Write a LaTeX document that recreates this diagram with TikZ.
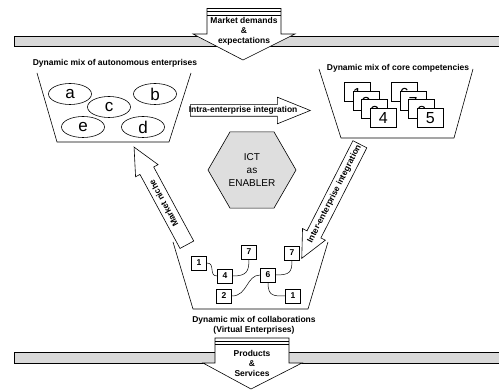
\documentclass[tikz,border=0pt]{standalone}
\usepackage{fontspec}
\setmainfont{Liberation Sans}
\usetikzlibrary{shapes.geometric,shapes.arrows}
\definecolor{band}{HTML}{D9D9D9}
\definecolor{hexfill}{HTML}{DEDEDE}

\begin{document}
\begin{tikzpicture}[
  x=1pt, y=-1pt, line width=0.6pt,
  lbl/.style ={font=\bfseries\fontsize{8.5}{10}\selectfont, align=center, inner sep=0pt},
  ent/.style ={ellipse, draw, fill=white, minimum width=43pt, minimum height=21pt,
               inner sep=0pt, font=\fontsize{17}{17}\selectfont},
  card/.style={draw, fill=white, minimum width=26pt, minimum height=19pt, inner sep=0pt,
               anchor=north west, font=\fontsize{16}{16}\selectfont},
  backcard/.style={card, text height=16pt, text depth=0pt},
  num/.style ={draw, fill=white, minimum width=15pt, minimum height=14pt, inner sep=0pt,
               font=\bfseries\fontsize{8.5}{9}\selectfont},
  blk/.style ={single arrow, draw, fill=white, anchor=tail, text height=6.2pt, text depth=1.8pt,
               font=\bfseries\fontsize{8.5}{10}\selectfont},
  lnk/.style ={line width=0.5pt}
]
\useasboundingbox (0,0) rectangle (499,390);

% =============== bands with in/out arrows ===============
\draw[fill=band, line width=0.8pt] (14,36) rectangle (510,46);
\draw[fill=band, line width=0.8pt] (14,352) rectangle (510,363);

\draw[fill=white] (207,8.5) -- (207,34) -- (193,34) -- (243,60) -- (295,34) -- (281,34) -- (281,8.5) -- cycle;
\draw (207,11.8) -- (281,11.8) (207,15) -- (281,15);
\node[lbl] (mkt) at (244,31) {Market demands\\\&\\expectations};

\draw[fill=white] (215,338) -- (215,363) -- (203,363) -- (251,389) -- (302,363) -- (289,363) -- (289,338) -- cycle;
\draw (215,341) -- (289,341) (215,344) -- (289,344);
\node[lbl] (prod) at (252,363.5) {Products\\\&\\Services};

% =============== autonomous enterprises ===============
\draw (37,73) -- (57,142) -- (169,142) -- (191,73);
\node[lbl] (tauto) at (115,63) {Dynamic mix of autonomous enterprises};
\node[ent] (ea) at (70,94)  {a};
\node[ent] (eb) at (155,94) {b};
\node[ent] (ec) at (109,107) {c};
\node[ent] (ee) at (83,127) {e};
\node[ent] (ed) at (143,127) {d};

% =============== core competencies ===============
\draw (319,69) -- (341,138) -- (454,138) -- (473,69);
\node[lbl] (tcore) at (398,68) {Dynamic mix of core competencies};
% stacked cards, only the top of each hidden digit shows
\foreach \d [count=\i from 0] in {1,2,3}
  \node[backcard] (cl\d) at (344+8.7*\i, 82+8.7*\i) {\d};
\node[card] (cl4) at (370.1,108.1) {4};
\foreach \d [count=\i from 0] in {6,7,8}
  \node[backcard] (cr\d) at (391+8.7*\i, 82+8.7*\i) {\d};
\node[card] (cr5) at (417.1,108.1) {5};

% =============== enabler ===============
\node[regular polygon, regular polygon sides=6, draw, fill=hexfill, minimum size=88pt,
      inner sep=0pt, align=center, font=\fontsize{10}{13}\selectfont] (ict) at (252,170)
  {ICT\\as\\ENABLER};

% =============== block arrows ===============
\node[blk, inner xsep=-1.8pt, inner ysep=1.5pt, single arrow head extend=7.5pt,
      single arrow tip angle=44] (intra) at (190,110.5) {Intra-enterprise integration};
\node[blk, rotate=118.4, minimum height=111pt, inner ysep=3.5pt, single arrow head extend=5pt,
      single arrow tip angle=51] (niche) at (187,245) {Market niche};
\node[blk, rotate=63, shape border rotate=180, minimum height=128pt, inner xsep=-3.3pt,
      inner ysep=3.5pt, single arrow head extend=5pt, single arrow tip angle=51] (inter)
  at (360,144) {Inter-enterprise integration};

% =============== collaborations ===============
\draw (173,242) -- (193,309) -- (308,309) -- (328,242);
\node[lbl] (tcoll) at (254,325.5) {Dynamic mix of collaborations\\(Virtual Enterprises)};
\node[num] (n1)  at (199,263) {1};
\node[num] (n7a) at (249,252) {7};
\node[num] (n7b) at (292,253) {7};
\node[num] (n4)  at (225,276) {4};
\node[num] (n6)  at (268,275) {6};
\node[num] (n2)  at (224,296) {2};
\node[num] (n1b) at (293,296) {1};

\draw[lnk] (n1.east) .. controls +(9,0) and +(-9,0) .. (n4.west);
\draw[lnk] (n4.east) .. controls +(14,0) and +(0,12) .. (n7a.south);
\draw[lnk] (n2.east) .. controls +(16,0) and +(-14,0) .. (n6.west);
\draw[lnk] (n6.east) .. controls +(14,0) and +(0,12) .. (n7b.south);
\draw[lnk] (n6.south) .. controls +(0,14) and +(-12,0) .. (n1b.west);
\end{tikzpicture}
\end{document}
